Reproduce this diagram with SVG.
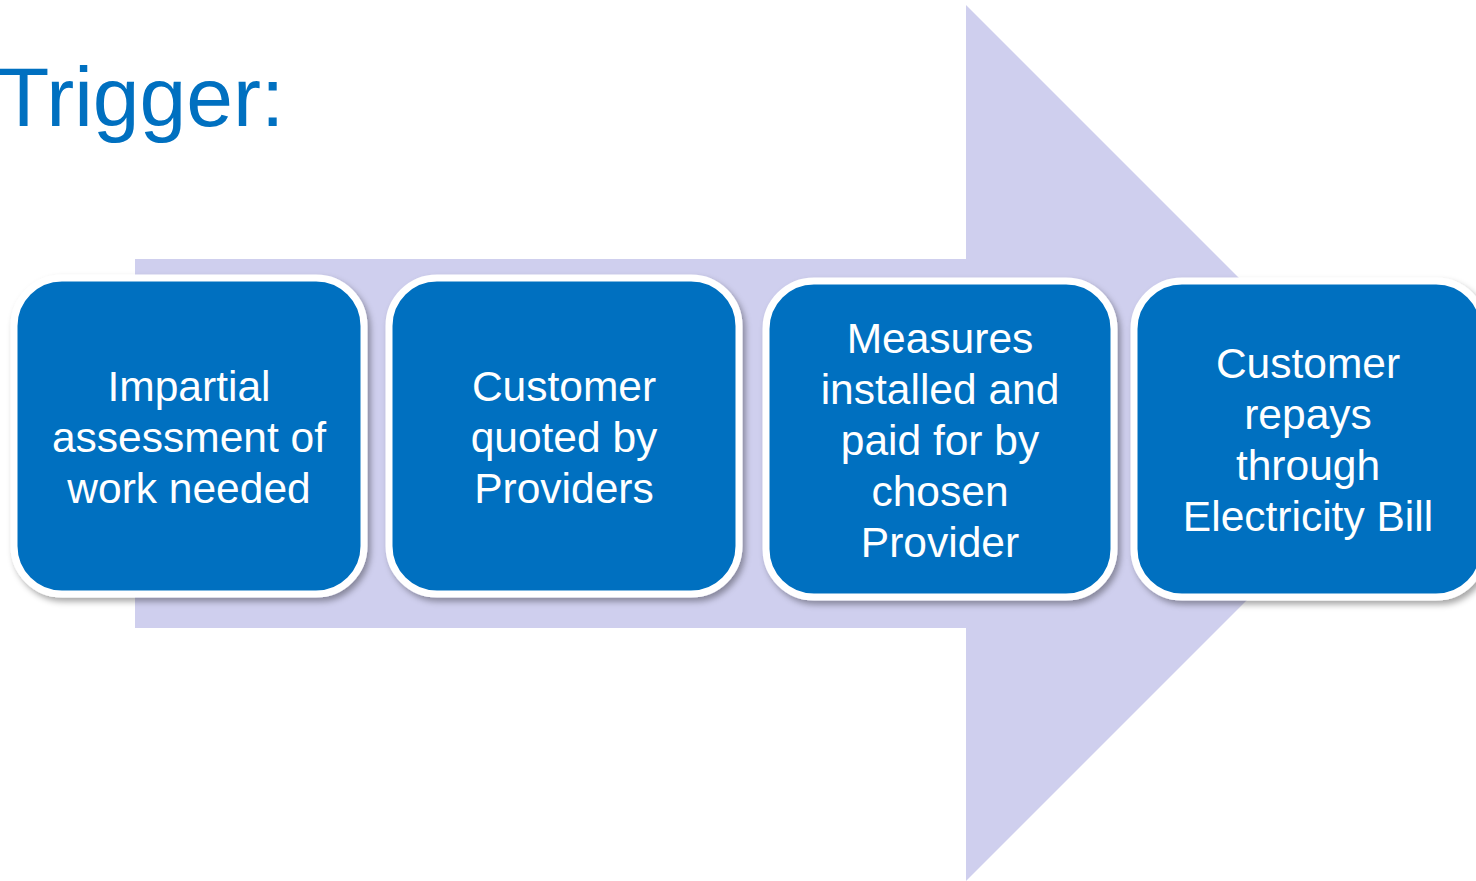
<svg xmlns="http://www.w3.org/2000/svg" width="1476" height="881" viewBox="0 0 1476 881">
<defs>
<filter id="sh" x="-10%" y="-10%" width="130%" height="130%">
<feGaussianBlur in="SourceAlpha" stdDeviation="3"/>
<feOffset dx="3" dy="4" result="b"/>
<feFlood flood-color="#000" flood-opacity="0.35"/>
<feComposite in2="b" operator="in"/>
<feMerge><feMergeNode/><feMergeNode in="SourceGraphic"/></feMerge>
</filter>
</defs>
<style>
.box{fill:#0070C0;stroke:#fff;stroke-width:7;filter:url(#sh)}
.t{font-family:"Liberation Sans",Arial,sans-serif;font-size:42.5px;fill:#fff;text-anchor:middle}
</style>
<rect width="1476" height="881" fill="#fff"/>
<polygon points="135,259 966,259 966,5 1404,443 966,881 966,628 135,628" fill="#CFCFEE"/>
<text x="-2" y="126" font-family="Liberation Sans,Arial,sans-serif" font-size="84" fill="#0070C0">Trigger:</text>
<g id="n1"><rect class="box" x="14" y="278" width="350" height="316" rx="48"/>
<text class="t"><tspan x="189" y="401">Impartial</tspan><tspan x="189" y="452">assessment of</tspan><tspan x="189" y="503">work needed</tspan></text></g>
<g id="n2"><rect class="box" x="389" y="278" width="350" height="316" rx="48"/>
<text class="t"><tspan x="564" y="401">Customer</tspan><tspan x="564" y="452">quoted by</tspan><tspan x="564" y="503">Providers</tspan></text></g>
<g id="n3"><rect class="box" x="766" y="281" width="348" height="316" rx="48"/>
<text class="t"><tspan x="940" y="353">Measures</tspan><tspan x="940" y="404">installed and</tspan><tspan x="940" y="455">paid for by</tspan><tspan x="940" y="506">chosen</tspan><tspan x="940" y="557">Provider</tspan></text></g>
<g id="n4"><rect class="box" x="1134" y="281" width="350" height="316" rx="48"/>
<text class="t"><tspan x="1308" y="378">Customer</tspan><tspan x="1308" y="429">repays</tspan><tspan x="1308" y="480">through</tspan><tspan x="1308" y="531">Electricity Bill</tspan></text></g>
<g id="connectors"/>
</svg>
